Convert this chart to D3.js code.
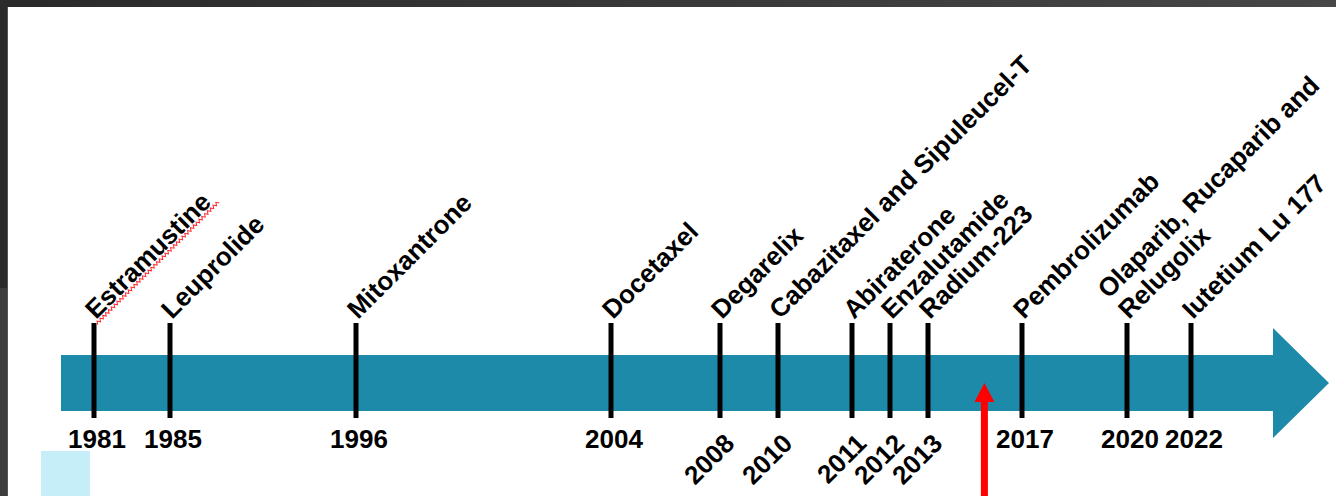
<!DOCTYPE html>
<html>
<head>
<meta charset="utf-8">
<script src="https://cdn.jsdelivr.net/npm/d3@7"></script>
<style>
  html, body { margin: 0; padding: 0; background: #fff; }
  svg { display: block; }
  text { font-family: "Liberation Sans", Arial, sans-serif; font-weight: bold; fill: #000; }
</style>
</head>
<body>
<svg id="timeline"></svg>
<script>
// approval years and the drugs shown above each tick
const years = [1981, 1985, 1996, 2004, 2008, 2010, 2011, 2012, 2013, 2017, 2020, 2022];
const drugs = [
  ["Estramustine"],
  ["Leuprolide"],
  ["Mitoxantrone"],
  ["Docetaxel"],
  ["Degarelix"],
  ["Cabazitaxel and Sipuleucel-T"],
  ["Abiraterone"],
  ["Enzalutamide"],
  ["Radium-223"],
  ["Pembrolizumab"],
  ["Olaparib, Rucaparib and", "Relugolix"],
  ["Iutetium Lu 177"]
];
// year labels that are written at an angle under the crowded part
const tiltedYears = [2008, 2010, 2011, 2012, 2013];
const markerYear = 2015.4;

const width = 1336, height = 496;
const teal = "#1e8aaa";

const svg = d3.select("#timeline").attr("width", width).attr("height", height);

// dark window frame around the slide
const defs = svg.append("defs");
const grad = defs.append("linearGradient").attr("id", "frameTop");
grad.append("stop").attr("offset", "0%").attr("stop-color", "#2a2a2a");
grad.append("stop").attr("offset", "100%").attr("stop-color", "#474747");
svg.append("rect").attr("width", width).attr("height", 7).attr("fill", "url(#frameTop)");
svg.append("rect").attr("y", 0).attr("width", 8).attr("height", 288).attr("fill", "#2b2b2b");
svg.append("rect").attr("y", 288).attr("width", 8).attr("height", height - 288).attr("fill", "#3d3d3d");
svg.append("rect").attr("x", 7).attr("y", 7).attr("width", 1).attr("height", height - 7).attr("fill", "#555");

// slide spacing is not proportional to time, so a piecewise scale
const x = d3.scaleLinear()
  .domain(years)
  .range([94, 170, 356, 611, 720, 778, 852, 890, 928, 1022, 1127, 1191]);

// timeline arrow
const barTop = 355, barBottom = 411, barLeft = 61, headX = 1273, tipX = 1329;
const mid = (barTop + barBottom) / 2;
svg.append("path")
  .attr("d", d3.line()([
    [barLeft, barTop], [headX, barTop], [headX, 328], [tipX, mid],
    [headX, 438], [headX, barBottom], [barLeft, barBottom]
  ]) + "Z")
  .attr("fill", teal);

// ticks
svg.selectAll(".tick")
  .data(years)
  .enter().append("line")
  .attr("class", "tick")
  .attr("x1", d => x(d)).attr("x2", d => x(d))
  .attr("y1", 323).attr("y2", 418)
  .attr("stroke", "#000")
  .attr("stroke-width", 5);

// drug names, rotated
const lab = svg.selectAll(".drug")
  .data(years.map((y, i) => ({ year: y, lines: drugs[i] })))
  .enter().append("text")
  .attr("class", "drug")
  .attr("font-size", 26)
  .attr("transform", d => `translate(${x(d.year) + 2},320) rotate(-45)`);

lab.selectAll("tspan")
  .data(d => d.lines.map((t, j) => ({ t, off: (d.lines.length - 1 - j) * -29 })))
  .enter().append("tspan")
  .attr("x", 0)
  .attr("y", d => d.off)
  .text(d => d.t);

// spell-check squiggle under the first label
const first = lab.filter(d => d.year === years[0]);
const len = first.node().getComputedTextLength();
const zig = d3.range(-2, len + 6, 2).map((v, i) => [v, 3 + (i % 2 ? -1.5 : 1.5)]);
svg.append("path")
  .attr("d", d3.line()(zig))
  .attr("fill", "none")
  .attr("stroke", "#ff2a2a")
  .attr("stroke-width", 1)
  .attr("transform", `translate(${x(years[0]) + 2},320) rotate(-45)`);

// year labels
svg.selectAll(".year")
  .data(years)
  .enter().append("text")
  .attr("class", "year")
  .attr("font-size", 26)
  .attr("text-anchor", d => tiltedYears.includes(d) ? "end" : "middle")
  .attr("transform", d => tiltedYears.includes(d)
    ? `translate(${x(d) + 16},445) rotate(-45)`
    : `translate(${x(d) + 3},448)`)
  .text(d => d);

// red marker arrow
const mx = x(markerYear);
svg.append("line")
  .attr("x1", mx).attr("x2", mx)
  .attr("y1", 400).attr("y2", height)
  .attr("stroke", "#ff0000")
  .attr("stroke-width", 7);
svg.append("path")
  .attr("d", d3.line()([[mx, 383], [mx + 10, 402], [mx - 10, 402]]) + "Z")
  .attr("fill", "#ff0000");

// light blue box in the corner
svg.append("rect")
  .attr("x", 41).attr("y", 451).attr("width", 49).attr("height", height - 451)
  .attr("fill", "#c6eef8");
</script>
</body>
</html>
